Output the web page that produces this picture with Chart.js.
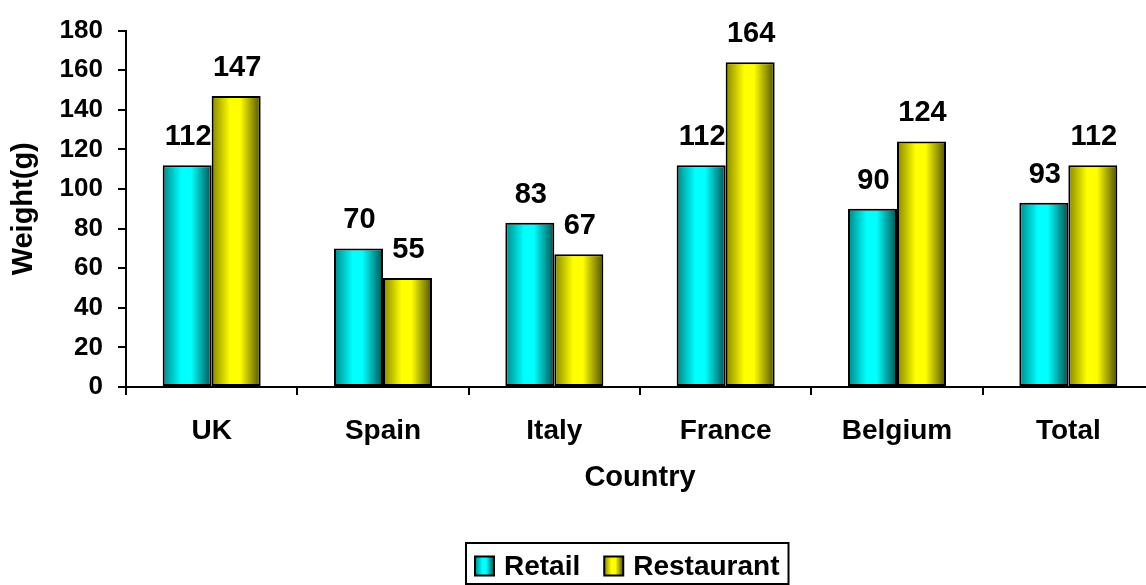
<!DOCTYPE html>
<html>
<head>
<meta charset="utf-8">
<script src="https://cdn.jsdelivr.net/npm/chart.js@4/dist/chart.umd.min.js"></script>
<style>
html,body{margin:0;padding:0;background:#fff;overflow:hidden;width:1146px;height:585px;}
canvas{display:block;}
</style>
</head>
<body>
<canvas id="c" width="1160" height="585" style="width:1160px;height:585px"></canvas>
<script>
const categories = ["UK", "Spain", "Italy", "France", "Belgium", "Total"];
const retail = [112, 70, 83, 112, 90, 93];
const restaurant = [147, 55, 67, 164, 124, 112];
const seriesNames = ["Retail", "Restaurant"];
const yTicks = [0, 20, 40, 60, 80, 100, 120, 140, 160, 180];

const FONT = "'Liberation Sans', Arial, sans-serif";
const CAT_PCT = 0.572;
const palettes = [
  {edgeL: "rgb(0,135,135)", mid: "#00ffff", edgeR: "rgb(0,80,80)"},
  {edgeL: "rgb(135,135,0)", mid: "#ffff00", edgeR: "rgb(80,80,0)"}
];

function makeGrad(ctx, left, width, p) {
  const g = ctx.createLinearGradient(left, 0, left + width, 0);
  g.addColorStop(0, p.edgeL);
  g.addColorStop(0.38, p.mid);
  g.addColorStop(0.58, p.mid);
  g.addColorStop(1, p.edgeR);
  return g;
}

function barFill(c) {
  const chart = c.chart;
  const xs = chart.scales.x;
  const p = palettes[c.datasetIndex];
  if (!xs || c.dataIndex === undefined || !isFinite(xs.width)) return p.mid;
  const center = xs.getPixelForValue(c.dataIndex);
  const catW = xs.width / categories.length;
  const bw = catW * CAT_PCT / 2;
  const left = center - catW * CAT_PCT / 2 + c.datasetIndex * bw;
  return makeGrad(chart.ctx, left, bw, p);
}

const valueLabels = {
  id: 'valueLabels',
  afterDatasetsDraw(chart) {
    const ctx = chart.ctx;
    ctx.save();
    ctx.font = "bold 29px " + FONT;
    ctx.fillStyle = "#000";
    ctx.textAlign = "center";
    ctx.textBaseline = "alphabetic";
    chart.data.datasets.forEach((ds, di) => {
      const meta = chart.getDatasetMeta(di);
      meta.data.forEach((el, i) => {
        ctx.fillText(String(ds.data[i]), el.x + 1, el.y - 20);
      });
    });
    ctx.restore();
  }
};

const boxLegend = {
  id: 'boxLegend',
  afterDraw(chart) {
    const ctx = chart.ctx;
    ctx.save();
    const left = 466, top = 543, bottom = 584;
    ctx.font = "bold 28px " + FONT;
    ctx.textBaseline = "middle";
    ctx.textAlign = "left";
    let x = left + 9;
    const midY = 566;
    let lastEnd = x;
    chart.data.datasets.forEach((ds, di) => {
      const sw = 19;
      ctx.fillStyle = makeGrad(ctx, x, sw, palettes[di]);
      ctx.fillRect(x, midY - sw / 2, sw, sw);
      ctx.lineWidth = 2;
      ctx.strokeStyle = "#000";
      ctx.strokeRect(x, midY - sw / 2, sw, sw);
      ctx.fillStyle = "#000";
      ctx.fillText(ds.label, x + sw + 10, midY + 1);
      const w = ctx.measureText(ds.label).width;
      lastEnd = x + sw + 10 + w;
      x = lastEnd + 24;
    });
    ctx.lineWidth = 2;
    ctx.strokeStyle = "#000";
    ctx.strokeRect(left, top, lastEnd + 9 - left, bottom - top);
    ctx.restore();
  }
};

new Chart(document.getElementById('c'), {
  type: 'bar',
  data: {
    labels: categories,
    datasets: [
      {label: seriesNames[0], data: retail, backgroundColor: barFill, borderColor: "#000", borderWidth: 2, borderSkipped: false},
      {label: seriesNames[1], data: restaurant, backgroundColor: barFill, borderColor: "#000", borderWidth: 2, borderSkipped: false}
    ]
  },
  options: {
    responsive: false,
    animation: false,
    devicePixelRatio: 1,
    datasets: {bar: {categoryPercentage: CAT_PCT, barPercentage: 1.0}},
    layout: {padding: {top: 29, right: 6, bottom: 90, left: 0}},
    plugins: {legend: {display: false}, tooltip: {enabled: false}},
    scales: {
      x: {
        grid: {display: true, drawOnChartArea: false, drawTicks: true, tickLength: 8, color: "#000", lineWidth: 2, offset: true},
        border: {display: true, color: "#000", width: 2},
        ticks: {color: "#000", font: {family: FONT, size: 28, weight: "bold"}, padding: 19, maxRotation: 0},
        title: {display: true, text: "Country", color: "#000", font: {family: FONT, size: 29, weight: "bold"}, padding: {top: 0, bottom: 0}},
        afterFit(s) { s.height = 108; }
      },
      y: {
        min: 0, max: 180,
        afterBuildTicks(s) { s.ticks = yTicks.map(v => ({value: v})); },
        grid: {display: true, drawOnChartArea: false, drawTicks: true, tickLength: 8, color: "#000", lineWidth: 2},
        border: {display: true, color: "#000", width: 2},
        ticks: {color: "#000", font: {family: FONT, size: 26, weight: "bold"}, padding: 15},
        title: {display: true, text: "Weight(g)", color: "#000", font: {family: FONT, size: 29, weight: "bold"}, padding: {top: 7, bottom: 0}},
        afterFit(s) { s.width = 126; }
      }
    }
  },
  plugins: [valueLabels, boxLegend]
});
</script>
</body>
</html>
